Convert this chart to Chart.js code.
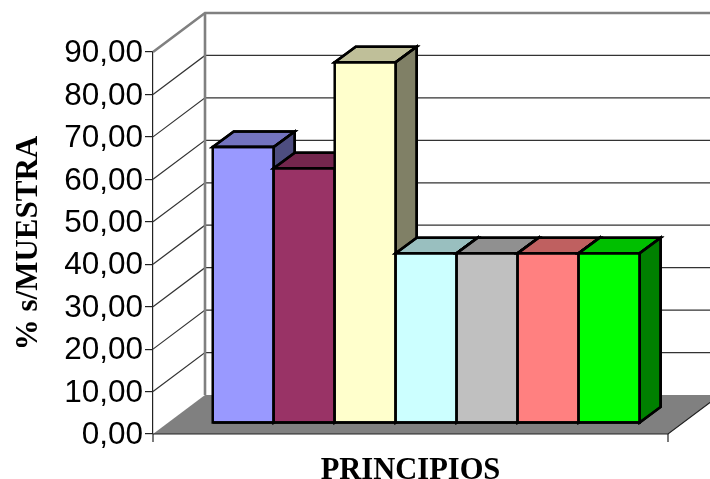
<!DOCTYPE html>
<html>
<head>
<meta charset="utf-8">
<title>Principios</title>
<script src="https://cdn.jsdelivr.net/npm/chart.js@4/dist/chart.umd.min.js"></script>
<style>
    html, body { margin: 0; padding: 0; background: #fff; }
    #wrap { width: 710px; height: 479px; }
</style>
</head>
<body>
<div id="wrap"><canvas id="chart"></canvas></div>
<script>
const categories = ['PRINCIPIOS'];
const seriesNames = ['Principio 1', 'Principio 2', 'Principio 3', 'Principio 4', 'Principio 5', 'Principio 6', 'Principio 7'];
const seriesValues = [65, 60, 85, 40, 40, 40, 40];
const seriesColors = ['#9999FF', '#993366', '#FFFFCC', '#CCFFFF', '#C0C0C0', '#FF8080', '#00FF00'];
const yMax = 90;
const yStep = 10;

// profundidad de las paredes y de las barras
const wallDx = 52, wallDy = -39;
const barPlaneDx = 15.7, barPlaneDy = -11;
const barDx = 21, barDy = -15.5;

function shade(hex, k) {
    const n = parseInt(hex.slice(1), 16);
    return `rgb(${((n >> 16) & 255) * k},${((n >> 8) & 255) * k},${(n & 255) * k})`;
}

function poly(ctx, pts, fill, stroke, width) {
    ctx.beginPath();
    pts.forEach((p, i) => i ? ctx.lineTo(p[0], p[1]) : ctx.moveTo(p[0], p[1]));
    if (fill) {
        ctx.closePath();
        ctx.fillStyle = fill;
        ctx.fill();
    }
    if (stroke) {
        ctx.strokeStyle = stroke;
        ctx.lineWidth = width;
        ctx.stroke();
    }
}

// Dibuja paredes, suelo y barras en 3D; las barras van de izquierda a derecha
const box3d = {
    id: 'box3d',
    beforeDatasetsDraw(chart) {
        const ctx = chart.ctx;
        const { left, right, top, bottom } = chart.chartArea;
        const yScale = chart.scales.y;
        ctx.save();
        ctx.lineJoin = 'miter';

        // suelo
        poly(ctx, [[left, bottom], [left + wallDx, bottom + wallDy], [right + wallDx, bottom + wallDy], [right, bottom]], '#808080');
        poly(ctx, [[left, bottom], [right, bottom], [right + wallDx, bottom + wallDy]], null, '#222', 1.2);
        poly(ctx, [[left, bottom + 8], [left, bottom]], null, '#222', 1.2);
        poly(ctx, [[right, bottom + 8], [right, bottom]], null, '#222', 1.2);

        // lineas de division
        for (let v = yStep; v < yMax; v += yStep) {
            const y = yScale.getPixelForValue(v);
            poly(ctx, [[left, y], [left + wallDx, y + wallDy], [right + wallDx, y + wallDy]], null, '#333', 1.2);
        }

        // borde gris de la pared del fondo
        poly(ctx, [[left, top], [left + wallDx, top + wallDy], [right + wallDx, top + wallDy]], null, '#808080', 2.6);
        poly(ctx, [[left + wallDx, top + wallDy], [left + wallDx, bottom + wallDy]], null, '#808080', 2.6);

        ctx.translate(barPlaneDx, barPlaneDy);
        chart.getSortedVisibleDatasetMetas().forEach(meta => {
            const bar = meta.data[0];
            const color = seriesColors[meta.index];
            const x0 = bar.x - bar.width / 2;
            const x1 = bar.x + bar.width / 2;
            const yTop = bar.y;
            const yBase = bar.base;
            poly(ctx, [[x0, yTop], [x0 + barDx, yTop + barDy], [x1 + barDx, yTop + barDy], [x1, yTop]], shade(color, 0.75), '#000', 2.5);
            ctx.closePath();
            ctx.stroke();
            poly(ctx, [[x1, yTop], [x1 + barDx, yTop + barDy], [x1 + barDx, yBase + barDy], [x1, yBase]], shade(color, 0.5), '#000', 2.5);
            ctx.closePath();
            ctx.stroke();
            bar.draw(ctx);
            poly(ctx, [[x0, yTop], [x1, yTop], [x1, yBase], [x0, yBase]], null, '#000', 2.5);
            ctx.closePath();
            ctx.stroke();
        });
        ctx.restore();
        return false;
    }
};

document.addEventListener('DOMContentLoaded', function() {
    new Chart(document.getElementById('chart').getContext('2d'), {
        type: 'bar',
        data: {
            labels: categories,
            datasets: seriesValues.map((v, i) => ({
                label: seriesNames[i],
                data: [v],
                backgroundColor: seriesColors[i],
                borderWidth: 0
            }))
        },
        plugins: [box3d],
        options: {
            responsive: true,
            maintainAspectRatio: false,
            animation: false,
            layout: { padding: { top: 52, right: 42, left: 0, bottom: 0 } },
            datasets: {
                bar: { barPercentage: 1, categoryPercentage: 0.829 }
            },
            plugins: {
                legend: { display: false },
                tooltip: { enabled: false }
            },
            scales: {
                x: {
                    afterFit: scale => { scale.height = 45; },
                    grid: { display: false },
                    border: { display: false },
                    ticks: { display: false },
                    title: {
                        display: true,
                        text: 'PRINCIPIOS',
                        color: '#000',
                        font: { family: '"Liberation Serif"', size: 30.5, weight: 'bold', lineHeight: 1 },
                        padding: { top: 0, bottom: -7 }
                    }
                },
                y: {
                    min: 0,
                    max: yMax,
                    afterFit: scale => { scale.width = 153; },
                    grid: { drawOnChartArea: false, color: '#222', lineWidth: 1.2, tickLength: 8 },
                    border: { display: true, color: '#222', width: 1.2 },
                    ticks: {
                        stepSize: yStep,
                        padding: 2,
                        labelOffset: 1.5,
                        color: '#000',
                        font: { family: '"Liberation Sans"', size: 31.5 },
                        callback: value => value.toFixed(2).replace('.', ',')
                    },
                    title: {
                        display: true,
                        text: '% s/MUESTRA',
                        color: '#000',
                        font: { family: '"Liberation Serif"', size: 31, weight: 'bold', lineHeight: 1 },
                        padding: { top: 13, bottom: 0 }
                    }
                }
            }
        }
    });
});
</script>
</body>
</html>
